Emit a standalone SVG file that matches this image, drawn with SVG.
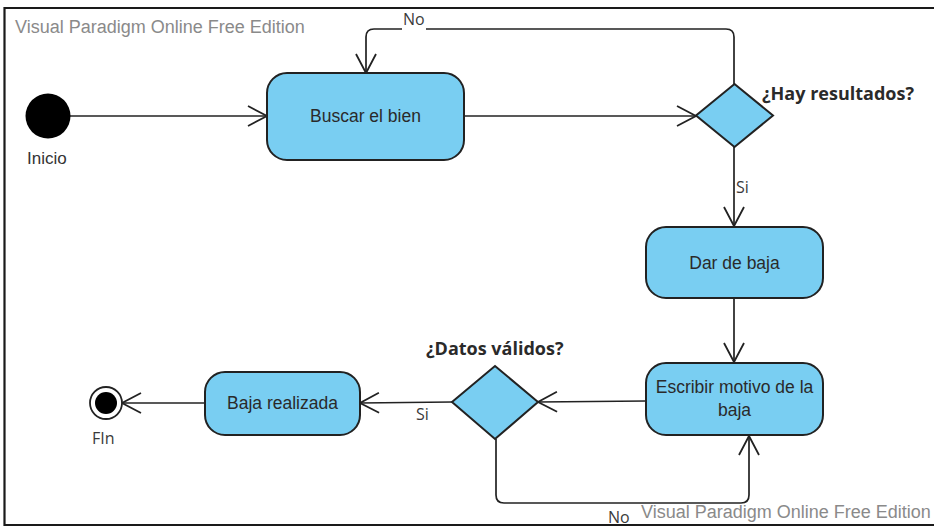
<svg xmlns="http://www.w3.org/2000/svg" width="934" height="527" viewBox="0 0 934 527">
  <style>
    .node { fill: #79CEF2; stroke: #222; stroke-width: 2; }
    .conn { fill: none; stroke: #222; stroke-width: 1.7; }
    .ntext { font-family: "Liberation Sans", Arial, sans-serif; font-size: 17.5px; fill: #2a2a2a; text-anchor: middle; }
    .wm { font-family: "Liberation Sans", Arial, sans-serif; font-size: 18px; fill: #8a8a8a; }
    .guard { font-family: "Open Sans", "Noto Sans", sans-serif; font-size: 16px; fill: #3a3a3a; }
    .dlabel { font-family: "Open Sans", "Noto Sans", sans-serif; font-size: 18px; font-weight: bold; fill: #2a2a2a; }
    .lbl { font-family: "Liberation Sans", Arial, sans-serif; font-size: 17px; fill: #333; }
  </style>
  <defs>
    <marker id="arr" markerUnits="userSpaceOnUse" markerWidth="24" markerHeight="24" refX="20" refY="11" orient="auto">
      <path d="M1,1 L20,11 L1,21" fill="none" stroke="#222" stroke-width="1.8"/>
    </marker>
  </defs>
  <rect x="0" y="0" width="934" height="527" fill="#ffffff"/>
  <path d="M936,8 H4.5 V525 H936" fill="none" stroke="#1a1a1a" stroke-width="2.2"/>

  <text class="wm" x="15" y="33">Visual Paradigm Online Free Edition</text>
  <text class="wm" x="641" y="518">Visual Paradigm Online Free Edition</text>

  <g id="connectors">
    <line class="conn" x1="70" y1="116" x2="267" y2="116" marker-end="url(#arr)"/>
    <line class="conn" x1="464" y1="116" x2="696" y2="116" marker-end="url(#arr)"/>
    <path class="conn" d="M734,84 V37 Q734,29 726,29 H374 Q366,29 366,37 V73" marker-end="url(#arr)"/>
    <rect x="402" y="18" width="24" height="16" fill="#ffffff"/>
    <text class="guard" x="403" y="25">No</text>
    <line class="conn" x1="734" y1="147" x2="734" y2="226" marker-end="url(#arr)"/>
    <text class="guard" x="736" y="193">Si</text>
    <line class="conn" x1="646" y1="401" x2="538" y2="402" marker-end="url(#arr)"/>
    <line class="conn" x1="734" y1="298" x2="734" y2="362" marker-end="url(#arr)"/>
    <line class="conn" x1="452" y1="402" x2="360" y2="403" marker-end="url(#arr)"/>
    <text class="guard" x="416" y="420">Si</text>
    <path class="conn" d="M496,439 V495 Q496,503 504,503 H741 Q749,503 749,495 V436" marker-end="url(#arr)"/>
    <text class="guard" x="608" y="523">No</text>
    <line class="conn" x1="205" y1="403" x2="122" y2="403" marker-end="url(#arr)"/>
  </g>

  <g id="inicio">
    <circle cx="48" cy="116" r="22.5" fill="#000"/>
    <text class="lbl" x="27" y="164">Inicio</text>
  </g>

  <g id="buscar">
    <rect class="node" x="267" y="73" width="197" height="87" rx="20"/>
    <text class="ntext" x="365.5" y="122">Buscar el bien</text>
  </g>

  <g id="hay-resultados">
    <polygon class="node" points="734.5,84 773,115.5 734.5,147 696,115.5"/>
    <text class="dlabel" x="762" y="100">¿Hay resultados?</text>
  </g>

  <g id="dar-de-baja">
    <rect class="node" x="646" y="227" width="177" height="71" rx="20"/>
    <text class="ntext" x="734.5" y="269">Dar de baja</text>
  </g>

  <g id="escribir">
    <rect class="node" x="646" y="363" width="177" height="72" rx="20"/>
    <text class="ntext" x="734.5" y="393">Escribir motivo de la</text>
    <text class="ntext" x="734.5" y="416">baja</text>
  </g>

  <g id="datos-validos">
    <polygon class="node" points="495,366 538,402 495,439 452,402"/>
    <text class="dlabel" x="426" y="355">¿Datos válidos?</text>
  </g>

  <g id="baja-realizada">
    <rect class="node" x="205" y="372" width="155" height="63" rx="20"/>
    <text class="ntext" x="282.5" y="409">Baja realizada</text>
  </g>

  <g id="fin">
    <circle cx="106" cy="403" r="16" fill="#fff" stroke="#222" stroke-width="1.8"/>
    <circle cx="106" cy="403" r="11" fill="#000"/>
    <text class="guard" x="92" y="444">FIn</text>
  </g>
</svg>
